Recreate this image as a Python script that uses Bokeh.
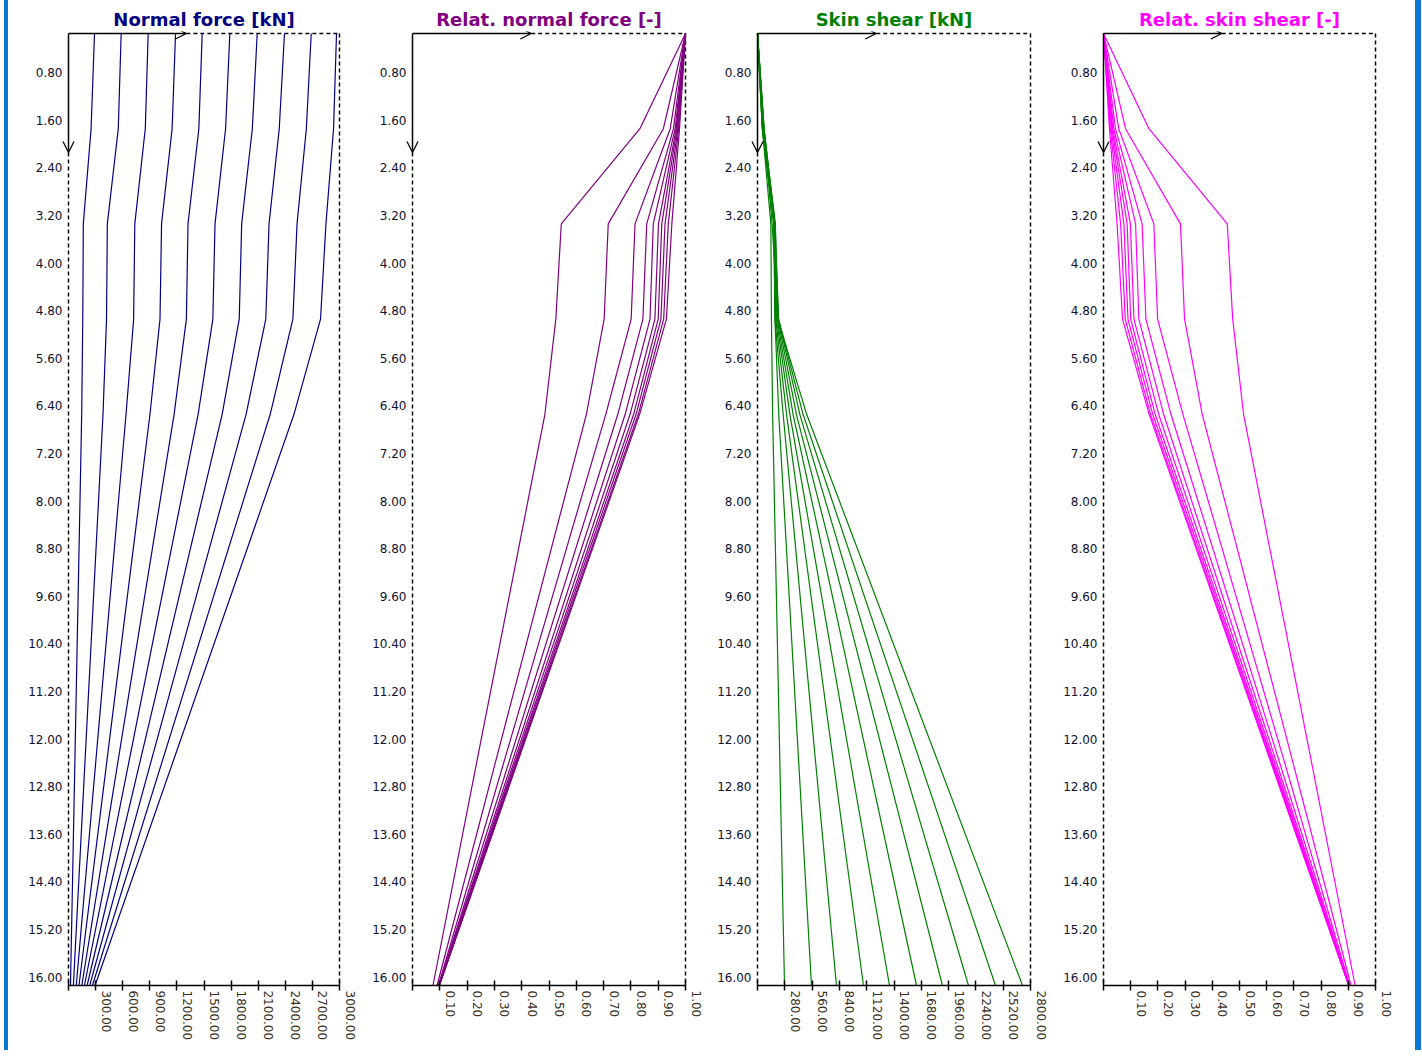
from bokeh.plotting import figure
from bokeh.models import (Range1d, LinearAxis, FixedTicker, NumeralTickFormatter,
                          Arrow, OpenHead, Div)
from bokeh.layouts import row
from bokeh.embed import file_html
from bokeh.resources import INLINE

# ---------------- data ----------------
depths = [0.0, 1.6, 3.2, 4.8, 6.4, 16.0]          # m
loads = [300, 600, 900, 1200, 1500, 1800, 2100, 2400, 2700, 3000]  # kN

normal_force = [                                   # kN
    [288, 250, 164, 158, 146, 22],
    [583, 551, 430, 421, 382, 54],
    [882, 850, 734, 721, 637, 86],
    [1185, 1147, 1030, 1013, 902, 116],
    [1480, 1443, 1323, 1305, 1169, 147],
    [1786, 1739, 1622, 1598, 1435, 176],
    [2089, 2035, 1917, 1890, 1701, 206],
    [2391, 2333, 2220, 2184, 1966, 235],
    [2687, 2633, 2530, 2484, 2233, 265],
    [2967, 2934, 2850, 2790, 2496, 294],
]
relative_normal = [                                # -
    [1.000, 0.833, 0.545, 0.525, 0.485, 0.075],
    [1.000, 0.919, 0.717, 0.702, 0.637, 0.090],
    [1.000, 0.944, 0.815, 0.801, 0.708, 0.095],
    [1.000, 0.956, 0.858, 0.844, 0.752, 0.097],
    [1.000, 0.962, 0.882, 0.870, 0.779, 0.098],
    [1.000, 0.966, 0.901, 0.888, 0.797, 0.098],
    [1.000, 0.969, 0.913, 0.900, 0.810, 0.098],
    [1.000, 0.972, 0.925, 0.910, 0.819, 0.098],
    [1.000, 0.975, 0.937, 0.920, 0.827, 0.098],
    [1.000, 0.978, 0.950, 0.930, 0.832, 0.098],
]
skin_shear = [                                     # kN
    [0, 50, 137, 143, 155, 277],
    [0, 49, 170, 179, 218, 554],
    [0, 50, 167, 179, 263, 810],
    [0, 53, 170, 187, 298, 1087],
    [0, 57, 177, 195, 332, 1354],
    [0, 61, 178, 202, 365, 1631],
    [0, 65, 183, 210, 399, 1897],
    [0, 67, 180, 216, 434, 2164],
    [0, 68, 170, 216, 467, 2441],
    [0, 66, 150, 210, 504, 2718],
]
relative_skin = [                                  # -
    [0.000, 0.167, 0.455, 0.475, 0.515, 0.925],
    [0.000, 0.081, 0.283, 0.298, 0.363, 0.910],
    [0.000, 0.056, 0.185, 0.199, 0.292, 0.905],
    [0.000, 0.044, 0.142, 0.156, 0.248, 0.903],
    [0.000, 0.038, 0.118, 0.130, 0.221, 0.902],
    [0.000, 0.034, 0.099, 0.112, 0.203, 0.902],
    [0.000, 0.031, 0.087, 0.100, 0.190, 0.902],
    [0.000, 0.028, 0.075, 0.090, 0.181, 0.902],
    [0.000, 0.025, 0.063, 0.080, 0.173, 0.902],
    [0.000, 0.022, 0.050, 0.070, 0.168, 0.902],
]

depth_ticks = [0.8, 1.6, 2.4, 3.2, 4.0, 4.8, 5.6, 6.4, 7.2, 8.0,
               8.8, 9.6, 10.4, 11.2, 12.0, 12.8, 13.6, 14.4, 15.2, 16.0]
normal_ticks = [300, 600, 900, 1200, 1500, 1800, 2100, 2400, 2700, 3000]
shear_ticks = [280, 560, 840, 1120, 1400, 1680, 1960, 2240, 2520, 2800]
rel_ticks = [0.1, 0.2, 0.3, 0.4, 0.5, 0.6, 0.7, 0.8, 0.9, 1.0]

titles = ["Normal force [kN]", "Relat. normal force [-]",
          "Skin shear [kN]", "Relat. skin shear [-]"]
colors = ["#000080", "#800080", "#008000", "#FF00FF"]

# ---------------- layout ----------------
H = 1050
TOP = 31
FRAME_H = 954                     # 952 px for 16 m + 2 px padding on top
BOTTOM = H - TOP - FRAME_H
DEPTH_MAX = 16.0
PX_PER_M = (FRAME_H - 2) / DEPTH_MAX
PAD_D = 2 / PX_PER_M
LABEL_SHIFT_D = 8.5 / PX_PER_M
PAD = 12                          # px of empty frame left / right of the data area
LABEL_SHIFT_X = 10.5              # px, rotated labels sit right of their ticks
ARROW_FRAC = 0.435
ARROW_DEPTH = 2.0
FONT = "DejaVu Sans"
BAR = "#0a78d2"

panels = [
    dict(data=normal_force, xmax=3000, ticks=normal_ticks, width=354, left=48, frame=271),
    dict(data=relative_normal, xmax=1.0, ticks=rel_ticks, width=345, left=38, frame=273),
    dict(data=skin_shear, xmax=2800, ticks=shear_ticks, width=346, left=38, frame=273),
    dict(data=relative_skin, xmax=1.0, ticks=rel_ticks, width=362, left=38, frame=272),
]

figs = []
for k, pan in enumerate(panels):
    xmax = pan["xmax"]
    ppx = pan["frame"] / xmax
    pad_x = PAD / ppx
    shift_x = LABEL_SHIFT_X / ppx
    left = pan["left"]
    right = max(0, pan["width"] - left - (pan["frame"] + 2 * PAD))
    p = figure(width=pan["width"], height=H,
               x_range=Range1d(-pad_x, xmax + pad_x),
               y_range=Range1d(DEPTH_MAX, -PAD_D),
               x_axis_location=None, y_axis_location=None,
               min_border_left=left, min_border_right=right,
               min_border_top=TOP, min_border_bottom=BOTTOM,
               output_backend="svg", toolbar_location=None,
               background_fill_color="white", border_fill_color="white")
    p.outline_line_color = None
    p.xgrid.visible = False
    p.ygrid.visible = False

    # title
    p.title.text = titles[k]
    p.title.align = "center"
    p.title.text_font = FONT
    p.title.text_font_style = "bold"
    p.title.text_font_size = "18px"
    p.title.text_color = colors[k]
    p.title.standoff = 3

    # depth labels (placed slightly above their depth, as in the original)
    p.extra_y_ranges = {"ylab": Range1d(DEPTH_MAX + LABEL_SHIFT_D, -PAD_D + LABEL_SHIFT_D)}
    yax = LinearAxis(y_range_name="ylab", ticker=FixedTicker(ticks=depth_ticks),
                     formatter=NumeralTickFormatter(format="0.00"))
    yax.axis_line_color = None
    yax.major_tick_line_color = None
    yax.minor_tick_line_color = None
    yax.major_tick_in = 0
    yax.major_tick_out = 0
    yax.minor_tick_in = 0
    yax.minor_tick_out = 0
    yax.major_label_standoff = 6 - PAD
    yax.major_label_text_font = FONT
    yax.major_label_text_font_size = "12px"
    yax.major_label_text_color = "#101030"
    p.add_layout(yax, "left")

    # x axis: line + ticks (no labels)
    xa = LinearAxis(ticker=FixedTicker(ticks=[], minor_ticks=[0] + pan["ticks"]),
                    bounds=(0, xmax))
    xa.axis_line_color = "black"
    xa.axis_line_width = 1.5
    xa.major_tick_in = 0
    xa.major_tick_out = 5
    xa.major_label_standoff = 0
    xa.minor_tick_line_color = "black"
    xa.minor_tick_line_width = 1.5
    xa.minor_tick_in = 5
    xa.minor_tick_out = 5
    p.add_layout(xa, "below")

    # x axis: rotated labels, offset to the right of their ticks
    p.extra_x_ranges = {"xlab": Range1d(-pad_x - shift_x, xmax + pad_x - shift_x)}
    xl = LinearAxis(x_range_name="xlab", ticker=FixedTicker(ticks=pan["ticks"]),
                    formatter=NumeralTickFormatter(format="0.00"))
    xl.axis_line_color = None
    xl.major_tick_line_color = None
    xl.minor_tick_line_color = None
    xl.major_tick_in = 0
    xl.major_tick_out = 0
    xl.minor_tick_in = 0
    xl.minor_tick_out = 0
    xl.major_label_orientation = "vertical"
    xl.major_label_standoff = 0
    xl.major_label_text_font = FONT
    xl.major_label_text_font_size = "12px"
    xl.major_label_text_color = "#3a3020"
    p.add_layout(xl, "below")

    # frame: dashed parts
    dash = dict(line_color="black", line_width=1.5, line_dash="4 3")
    p.line([ARROW_FRAC * xmax, xmax], [0, 0], **dash)
    p.line([xmax, xmax], [0, DEPTH_MAX], **dash)
    p.line([0, 0], [ARROW_DEPTH, DEPTH_MAX], **dash)

    # series
    for series in pan["data"]:
        p.line(series, depths, line_color=colors[k], line_width=1.2)

    # arrows of the coordinate system
    for xe, ye in [(ARROW_FRAC * xmax, 0), (0, ARROW_DEPTH)]:
        p.add_layout(Arrow(end=OpenHead(size=11, line_width=1.3, line_color="black"),
                           x_start=0, y_start=0, x_end=xe, y_end=ye,
                           line_width=1.5, line_color="black"))
    figs.append(p)

gap = Div(width=4, height=H, margin=0)
bar_l = Div(width=4, height=H, margin=0, styles={"background-color": BAR})
bar_r = Div(width=6, height=H, margin=0, styles={"background-color": BAR})
layout = row(gap, bar_l, *figs, bar_r, spacing=0)
open("out.html", "w").write(file_html(layout, INLINE))
